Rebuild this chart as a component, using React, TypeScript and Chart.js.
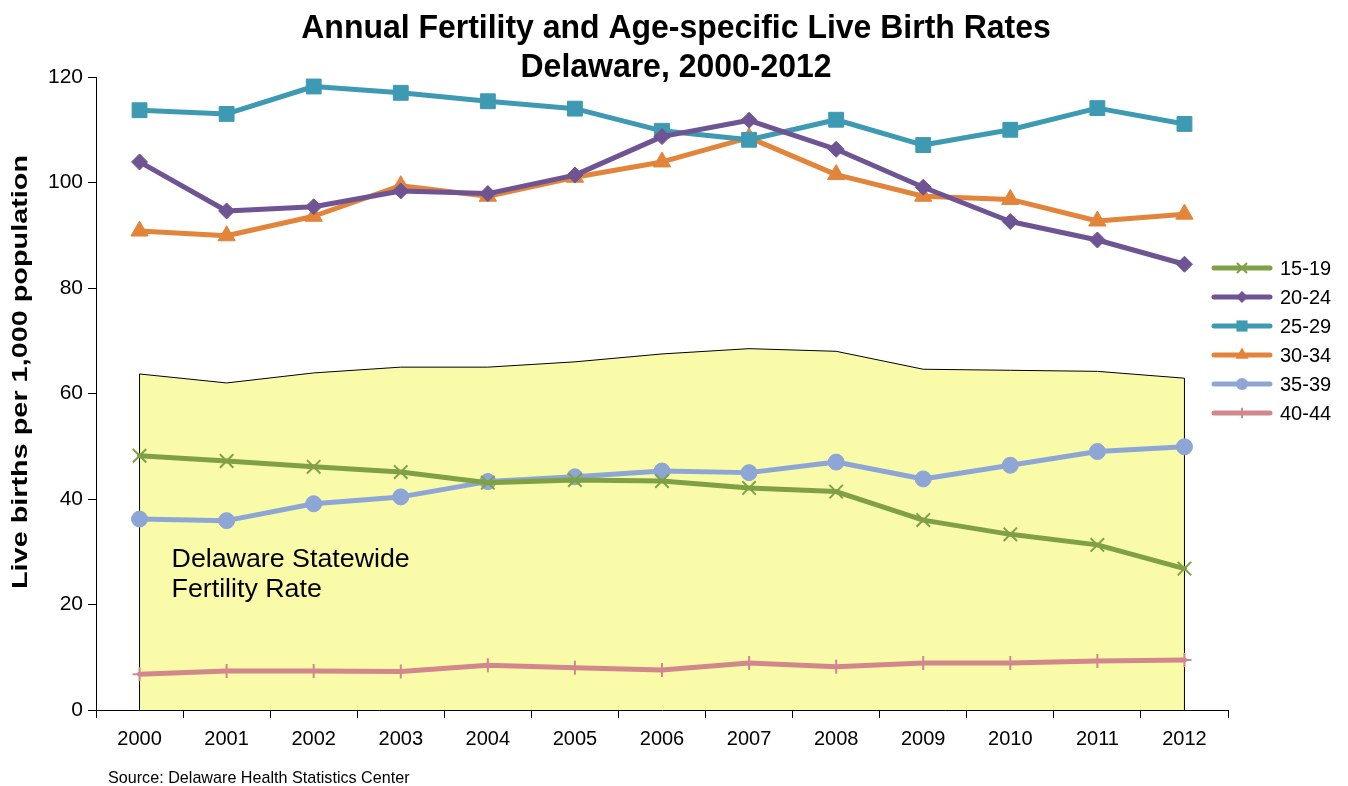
import React, { useEffect, useRef } from 'react';
import { Chart, registerables } from 'chart.js';

Chart.register(...registerables);

const years = ['2000', '2001', '2002', '2003', '2004', '2005', '2006', '2007', '2008', '2009', '2010', '2011', '2012'];
const yTicks = [0, 20, 40, 60, 80, 100, 120];

const age15_19 = [48.2, 47.2, 46.1, 45.1, 43.1, 43.6, 43.4, 42.1, 41.4, 36.0, 33.3, 31.3, 26.8];
const age20_24 = [103.9, 94.6, 95.4, 98.4, 97.9, 101.4, 108.7, 111.8, 106.3, 99.1, 92.6, 89.1, 84.5];
const age25_29 = [113.7, 113.0, 118.2, 117.0, 115.4, 114.0, 109.8, 108.1, 111.9, 107.1, 110.0, 114.1, 111.1];
const age30_34 = [90.8, 89.9, 93.6, 99.4, 97.4, 101.0, 103.9, 108.5, 101.5, 97.4, 96.8, 92.7, 94.0];
const age35_39 = [36.2, 35.9, 39.1, 40.4, 43.3, 44.2, 45.3, 45.0, 47.0, 43.8, 46.4, 49.0, 49.9];
const age40_44 = [6.8, 7.4, 7.4, 7.3, 8.5, 8.0, 7.6, 8.9, 8.2, 8.9, 8.9, 9.3, 9.5];
const fertilityRate = [63.7, 62.0, 63.9, 65.0, 65.0, 66.0, 67.5, 68.5, 68.0, 64.6, 64.4, 64.2, 62.9];

const seriesLabels = ['15-19', '20-24', '25-29', '30-34', '35-39', '40-44'];
const seriesData = [age15_19, age20_24, age25_29, age30_34, age35_39, age40_44];
const seriesColors = ['#7FA044', '#6F5494', '#3E9AB2', '#E2843A', '#8DA6D5', '#D2878D'];
const seriesMarkers = ['crossRot', 'rectRot', 'rect', 'triangle', 'circle', 'cross'];
const markerRadius = [9.5, 8, 10.5, 10, 8, 7];
const markerBorder = [2, 1, 1, 1, 1, 2];

const FONT = '"Liberation Sans", Arial, sans-serif';

function drawMarker(ctx: CanvasRenderingContext2D, style: string, x: number, y: number, r: number, color: string, bw: number) {
  ctx.save();
  ctx.fillStyle = color;
  ctx.strokeStyle = color;
  ctx.lineWidth = bw;
  ctx.beginPath();
  if (style === 'circle') {
    ctx.arc(x, y, r, 0, Math.PI * 2);
    ctx.fill();
  } else if (style === 'rect') {
    const s = r * Math.SQRT1_2;
    ctx.rect(x - s, y - s, 2 * s, 2 * s);
    ctx.fill();
  } else if (style === 'rectRot') {
    ctx.moveTo(x, y - r);
    ctx.lineTo(x + r, y);
    ctx.lineTo(x, y + r);
    ctx.lineTo(x - r, y);
    ctx.closePath();
    ctx.fill();
  } else if (style === 'triangle') {
    const w = r * Math.sqrt(3) / 2;
    ctx.moveTo(x, y - r);
    ctx.lineTo(x + w, y + r / 2);
    ctx.lineTo(x - w, y + r / 2);
    ctx.closePath();
    ctx.fill();
  } else if (style === 'crossRot') {
    const d = r * Math.SQRT1_2;
    ctx.moveTo(x - d, y - d);
    ctx.lineTo(x + d, y + d);
    ctx.moveTo(x + d, y - d);
    ctx.lineTo(x - d, y + d);
    ctx.stroke();
  } else if (style === 'cross') {
    ctx.moveTo(x, y - r);
    ctx.lineTo(x, y + r);
    ctx.moveTo(x - r, y);
    ctx.lineTo(x + r, y);
    ctx.stroke();
  }
  ctx.restore();
}

function scaledText(ctx: CanvasRenderingContext2D, text: string, x: number, y: number, font: string, sx: number, align: CanvasTextAlign) {
  ctx.save();
  ctx.translate(x, y);
  ctx.scale(sx, 1);
  ctx.font = font;
  ctx.fillStyle = '#000';
  ctx.textAlign = align;
  ctx.textBaseline = 'alphabetic';
  ctx.fillText(text, 0, 0);
  ctx.restore();
}

const decorPlugin = {
  id: 'decor',
  afterDatasetDraw(chart: any, args: any) {
    const ds = chart.data.datasets[args.index];
    if (!ds || ds.label !== 'Fertility Rate') return;
    const ctx = chart.ctx;
    const meta = chart.getDatasetMeta(args.index);
    const yScale = chart.scales.y;
    const xScale = chart.scales.x;
    const base = yScale.getPixelForValue(0);
    const pts = meta.data;
    ctx.save();
    ctx.strokeStyle = '#000';
    ctx.lineWidth = 1;
    ctx.beginPath();
    ctx.moveTo(pts[0].x, pts[0].y);
    ctx.lineTo(pts[0].x, base);
    ctx.moveTo(pts[pts.length - 1].x, pts[pts.length - 1].y);
    ctx.lineTo(pts[pts.length - 1].x, base);
    ctx.stroke();
    ctx.restore();
    // annotation text inside the filled area
    const tx = xScale.getPixelForValue(0) + 32;
    const ty = yScale.getPixelForValue(27.2);
    scaledText(ctx, 'Delaware Statewide', tx, ty, '26px ' + FONT, 1.03, 'left');
    scaledText(ctx, 'Fertility Rate', tx, ty + 30, '26px ' + FONT, 1.03, 'left');
  },
  afterDraw(chart: any) {
    const ctx = chart.ctx;
    // title
    scaledText(ctx, 'Annual Fertility and Age-specific Live Birth Rates', 676, 38, 'bold 34px ' + FONT, 0.94, 'center');
    scaledText(ctx, 'Delaware, 2000-2012', 676, 77, 'bold 34px ' + FONT, 0.94, 'center');
    // y title
    ctx.save();
    ctx.translate(27, 372);
    ctx.rotate(-Math.PI / 2);
    ctx.scale(1.31, 1);
    ctx.font = 'bold 22px ' + FONT;
    ctx.fillStyle = '#000';
    ctx.textAlign = 'center';
    ctx.textBaseline = 'alphabetic';
    ctx.fillText('Live births per 1,000 population', 0, 0);
    ctx.restore();
    // source
    scaledText(ctx, 'Source: Delaware Health Statistics Center', 108, 783, '17px ' + FONT, 0.95, 'left');
    // legend
    const area = chart.chartArea;
    const lx0 = area.right - 14;
    const lx1 = lx0 + 56;
    for (let i = 0; i < seriesLabels.length; i++) {
      const y = 268 + i * 29;
      ctx.save();
      ctx.strokeStyle = seriesColors[i];
      ctx.lineWidth = 5;
      ctx.lineCap = 'round';
      ctx.beginPath();
      ctx.moveTo(lx0, y);
      ctx.lineTo(lx1, y);
      ctx.stroke();
      ctx.restore();
      drawMarker(ctx, seriesMarkers[i], (lx0 + lx1) / 2, y, markerRadius[i] * 0.75, seriesColors[i], markerBorder[i]);
      ctx.save();
      ctx.fillStyle = '#000';
      ctx.font = '20px ' + FONT;
      ctx.textAlign = 'left';
      ctx.textBaseline = 'middle';
      ctx.fillText(seriesLabels[i], lx1 + 10, y + 1);
      ctx.restore();
    }
  },
};

export default function App() {
  const canvasRef = useRef<HTMLCanvasElement | null>(null);

  useEffect(() => {
    if (!canvasRef.current) return;
    const lineSets = seriesLabels.map((label, i) => ({
      type: 'line' as const,
      label,
      data: seriesData[i],
      borderColor: seriesColors[i],
      backgroundColor: seriesColors[i],
      borderWidth: 5,
      borderCapStyle: 'round' as const,
      borderJoinStyle: 'round' as const,
      pointStyle: seriesMarkers[i] as any,
      pointRadius: markerRadius[i],
      pointBackgroundColor: seriesColors[i],
      pointBorderColor: seriesColors[i],
      pointBorderWidth: markerBorder[i],
      fill: false,
      tension: 0,
      order: 1,
    }));
    const chart = new Chart(canvasRef.current, {
      type: 'line',
      data: {
        labels: years,
        datasets: [
          ...lineSets,
          {
            type: 'line' as const,
            label: 'Fertility Rate',
            data: fertilityRate,
            borderColor: '#000000',
            borderWidth: 1,
            backgroundColor: '#F9FBA9',
            fill: 'origin',
            pointRadius: 0,
            tension: 0,
            order: 10,
          },
        ],
      },
      options: {
        responsive: false,
        animation: false,
        devicePixelRatio: 1,
        events: [],
        layout: { padding: { top: 77, right: 120, left: 0, bottom: 0 } },
        plugins: {
          legend: { display: false },
          title: { display: false },
          tooltip: { enabled: false },
        },
        scales: {
          x: {
            type: 'category',
            offset: true,
            grid: { offset: true, drawOnChartArea: false, drawTicks: true, tickLength: 8, color: '#000' },
            border: { color: '#000', width: 1 },
            ticks: { color: '#000', font: { size: 20, family: FONT }, padding: 9, maxRotation: 0, autoSkip: false },
            afterFit: (s: any) => { s.height = 76; },
          },
          y: {
            min: yTicks[0],
            max: yTicks[yTicks.length - 1],
            grid: { drawOnChartArea: false, drawTicks: true, tickLength: 8, color: '#000' },
            border: { color: '#000', width: 1 },
            ticks: { stepSize: 20, color: '#000', font: { size: 21, family: FONT }, padding: 5 },
            afterFit: (s: any) => { s.width = 96; },
          },
        },
      },
      plugins: [decorPlugin],
    });
    return () => chart.destroy();
  }, []);

  return (
    <div style={{ position: 'fixed', left: 0, top: 0, width: 1348, height: 786, background: '#fff' }}>
      <canvas ref={canvasRef} width={1348} height={786} style={{ width: 1348, height: 786, display: 'block' }} />
    </div>
  );
}
